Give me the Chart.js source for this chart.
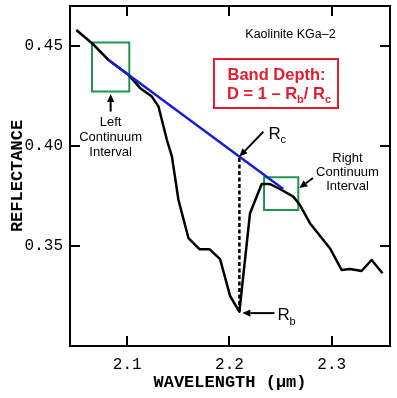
<!DOCTYPE html>
<html><head><meta charset="utf-8">
<script src="https://cdn.jsdelivr.net/npm/chart.js@4.4.1/dist/chart.umd.min.js"></script>
<style>html,body{margin:0;padding:0;background:#fff;overflow:hidden}</style>
</head><body>
<canvas id="c" width="397" height="398"></canvas>
<script>
// ---- data ----
const wavelength = [2.0502, 2.0655, 2.0817, 2.1013, 2.1127, 2.1241, 2.1306, 2.1322, 2.1388, 2.1437,
  2.1501, 2.1599, 2.1706, 2.1804, 2.1908, 2.2006, 2.2038, 2.2097, 2.2201, 2.2315,
  2.2396, 2.2511, 2.2624, 2.2689, 2.2787, 2.2982, 2.3097, 2.3178, 2.3292, 2.3390, 2.3497];
const reflectance = [0.4580, 0.4514, 0.4430, 0.4355, 0.4289, 0.4247, 0.4197, 0.4164, 0.4030, 0.3947,
  0.3730, 0.3539, 0.3484, 0.3484, 0.3434, 0.3250, 0.3222, 0.3172, 0.3664, 0.3810,
  0.3810, 0.3780, 0.3747, 0.3705, 0.3614, 0.3489, 0.3380, 0.3385, 0.3375, 0.3430, 0.3364];
const continuumWavelength = [2.0817, 2.2526];
const continuumReflectance = [0.4430, 0.3785];
const bandCenterWavelength = 2.2097;
const bandReflectance = [0.3172, 0.3947];   // Rb, Rc
const leftIntervalWavelength = [2.0655, 2.1020];
const leftIntervalReflectance = [0.4272, 0.4518];
const rightIntervalWavelength = [2.2338, 2.2673];
const rightIntervalReflectance = [0.3680, 0.3844];
const xTickValues = [2.1, 2.2, 2.3];
const xTickLabels = ['2.1', '2.2', '2.3'];
const yTickValues = [0.35, 0.40, 0.45];
const yTickLabels = ['0.35', '0.40', '0.45'];

const BLACK = '#000000', BLUE = 'rgb(20,32,210)', GREEN = 'rgb(28,150,76)', RED = 'rgb(226,30,46)';

function boxPoints(xs, ys) {
  return [{x: xs[0], y: ys[0]}, {x: xs[1], y: ys[0]}, {x: xs[1], y: ys[1]}, {x: xs[0], y: ys[1]}, {x: xs[0], y: ys[0]}];
}
function labelFor(values, labels, v) {
  for (let i = 0; i < values.length; i++) if (Math.abs(values[i] - v) < 1e-6) return labels[i];
  return null;
}

const framePlugin = {
  id: 'frame',
  afterDraw(chart) {
    const {ctx, chartArea: a, scales: {x, y}} = chart;
    ctx.save();
    ctx.strokeStyle = BLACK; ctx.lineWidth = 2; ctx.lineCap = 'butt';
    ctx.strokeRect(a.left, a.top, a.right - a.left, a.bottom - a.top);
    ctx.beginPath();
    x.ticks.forEach(t => {
      const px = Math.round(x.getPixelForValue(t.value));
      const len = t.label ? 10 : 5;
      ctx.moveTo(px, a.bottom); ctx.lineTo(px, a.bottom - len);
      ctx.moveTo(px, a.top); ctx.lineTo(px, a.top + len);
    });
    y.ticks.forEach(t => {
      const py = Math.round(y.getPixelForValue(t.value));
      const len = t.label ? 10 : 5;
      ctx.moveTo(a.left, py); ctx.lineTo(a.left + len, py);
      ctx.moveTo(a.right, py); ctx.lineTo(a.right - len, py);
    });
    ctx.stroke();
    ctx.restore();
  }
};

function arrow(ctx, x0, y0, x1, y1, color) {
  const ang = Math.atan2(y1 - y0, x1 - x0), hl = 8, hw = 3.6;
  const bx = x1 - hl * Math.cos(ang), by = y1 - hl * Math.sin(ang);
  ctx.strokeStyle = color; ctx.fillStyle = color; ctx.lineWidth = 2;
  ctx.beginPath(); ctx.moveTo(x0, y0); ctx.lineTo(bx, by); ctx.stroke();
  ctx.beginPath(); ctx.moveTo(x1, y1);
  ctx.lineTo(bx + hw * Math.sin(ang), by - hw * Math.cos(ang));
  ctx.lineTo(bx - hw * Math.sin(ang), by + hw * Math.cos(ang));
  ctx.closePath(); ctx.fill();
}

const annotationPlugin = {
  id: 'notes',
  afterDraw(chart) {
    const {ctx, scales: {x, y}} = chart;
    const SANS = '"Liberation Sans", Arial, sans-serif';
    ctx.save();
    ctx.textBaseline = 'alphabetic';
    // title
    ctx.fillStyle = BLACK; ctx.textAlign = 'center';
    ctx.font = '12.5px ' + SANS;
    ctx.fillText('Kaolinite KGa–2', 290.5, 37.5);
    // red formula box
    ctx.strokeStyle = RED; ctx.lineWidth = 2;
    ctx.strokeRect(214, 59, 124, 49);
    ctx.fillStyle = RED;
    ctx.font = 'bold 16.5px ' + SANS;
    ctx.fillText('Band Depth:', 276.5, 80);
    const parts = [['D = 1 – R', 16.5, 0], ['b', 11, 4], ['/ R', 16.5, 0], ['c', 11, 4]];
    let total = 0;
    parts.forEach(p => { ctx.font = 'bold ' + p[1] + 'px ' + SANS; p.push(ctx.measureText(p[0]).width); total += p[3]; });
    let cx = 279 - total / 2;
    ctx.textAlign = 'left';
    parts.forEach(p => { ctx.font = 'bold ' + p[1] + 'px ' + SANS; ctx.fillText(p[0], cx, 98.5 + p[2]); cx += p[3]; });

    // Rc and Rb labels with arrows
    const bx = x.getPixelForValue(bandCenterWavelength);
    const pyRb = y.getPixelForValue(bandReflectance[0]);
    const pyRc = y.getPixelForValue(bandReflectance[1]);
    ctx.fillStyle = BLACK;
    arrow(ctx, bx + 24, pyRc - 25, bx, pyRc, BLACK);
    ctx.font = '17px ' + SANS; ctx.fillText('R', bx + 29, pyRc - 18);
    ctx.font = '11px ' + SANS; ctx.fillText('c', bx + 41, pyRc - 14);
    arrow(ctx, bx + 35, pyRb + 1.5, bx + 3, pyRb + 1.5, BLACK);
    ctx.font = '17px ' + SANS; ctx.fillText('R', bx + 38, pyRb + 8);
    ctx.font = '11px ' + SANS; ctx.fillText('b', bx + 50, pyRb + 13);

    // continuum interval labels
    ctx.textAlign = 'center'; ctx.font = '13px ' + SANS;
    const lcx = (x.getPixelForValue(leftIntervalWavelength[0]) + x.getPixelForValue(leftIntervalWavelength[1])) / 2;
    const lby = y.getPixelForValue(leftIntervalReflectance[0]);
    arrow(ctx, lcx, lby + 20, lcx, lby + 2.5, BLACK);
    ['Left', 'Continuum', 'Interval'].forEach((s, i) => ctx.fillText(s, lcx, lby + 34.5 + i * 15));
    const rrx = x.getPixelForValue(rightIntervalWavelength[1]);
    arrow(ctx, 313, 178, rrx + 1, 188, BLACK);
    ['Right', 'Continuum', 'Interval'].forEach((s, i) => ctx.fillText(s, 347.5, 161.5 + i * 14.4));
    ctx.restore();
  }
};

const monoTick = {family: '"Liberation Mono", "Courier New", monospace', size: 16};
new Chart(document.getElementById('c'), {
  type: 'scatter',
  data: {
    datasets: [
      {label: 'Continuum', data: continuumWavelength.map((w, i) => ({x: w, y: continuumReflectance[i]})),
        showLine: true, borderColor: BLUE, borderWidth: 2.5, pointRadius: 0, order: 0},
      {label: 'Kaolinite KGa-2', data: wavelength.map((w, i) => ({x: w, y: reflectance[i]})),
        showLine: true, borderColor: BLACK, borderWidth: 2.5, pointRadius: 0, order: 1, borderJoinStyle: 'round'},
      {label: 'Band depth', data: bandReflectance.map(r => ({x: bandCenterWavelength, y: r})),
        showLine: true, borderColor: BLACK, borderWidth: 2.5, borderDash: [4, 2.5], pointRadius: 0, order: 2},
      {label: 'Left interval', data: boxPoints(leftIntervalWavelength, leftIntervalReflectance),
        showLine: true, borderColor: GREEN, borderWidth: 2, pointRadius: 0, order: 3, borderJoinStyle: 'miter', borderCapStyle: 'square'},
      {label: 'Right interval', data: boxPoints(rightIntervalWavelength, rightIntervalReflectance),
        showLine: true, borderColor: GREEN, borderWidth: 2, pointRadius: 0, order: 3, borderJoinStyle: 'miter', borderCapStyle: 'square'}
    ]
  },
  options: {
    responsive: false, animation: false, devicePixelRatio: 1,
    layout: {padding: {top: 6, right: 7, left: 0, bottom: 0}},
    plugins: {legend: {display: false}, tooltip: {enabled: false}},
    scales: {
      x: {
        type: 'linear', min: 2.044, max: 2.357,
        afterFit(s) { s.height = 52; s.paddingLeft = 0; s.paddingRight = 0; },
        grid: {display: false, drawTicks: false}, border: {display: false},
        ticks: {stepSize: 0.02, autoSkip: false, maxRotation: 0, padding: 9, color: BLACK, font: monoTick,
          callback: v => labelFor(xTickValues, xTickLabels, v)},
        title: {display: true, text: 'WAVELENGTH (µm)', color: BLACK,
          font: {family: '"Liberation Mono", "Courier New", monospace', size: 17, weight: 'bold'},
          padding: {top: 0, bottom: 5}}
      },
      y: {
        type: 'linear', min: 0.30, max: 0.47,
        afterFit(s) { s.width = 70; s.paddingTop = 0; s.paddingBottom = 0; },
        grid: {display: false, drawTicks: false}, border: {display: false},
        ticks: {stepSize: 0.01, autoSkip: false, padding: 7, color: BLACK, font: monoTick,
          callback: v => labelFor(yTickValues, yTickLabels, v)},
        title: {display: true, text: 'REFLECTANCE', color: BLACK,
          font: {family: '"Liberation Mono", "Courier New", monospace', size: 17, weight: 'bold'},
          padding: {top: 8, bottom: 0}}
      }
    }
  },
  plugins: [framePlugin, annotationPlugin]
});
</script>
</body></html>
